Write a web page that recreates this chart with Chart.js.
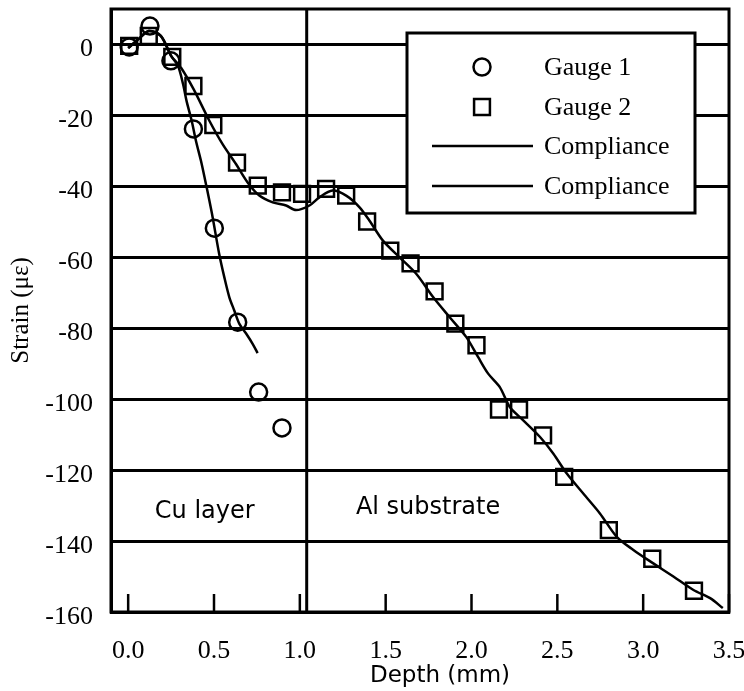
<!DOCTYPE html>
<html>
<head>
<meta charset="utf-8">
<script src="https://cdn.jsdelivr.net/npm/chart.js@4.4.1/dist/chart.umd.min.js"></script>
<style>
  html, body { margin: 0; padding: 0; background: #fff; }
  #wrap { width: 744px; height: 691px; }
</style>
</head>
<body>
<div id="wrap"><canvas id="strain"></canvas></div>
<script>
// Gauge readings (depth in mm, strain in microstrain)
const gauge1Depth  = [0.006, 0.127, 0.249, 0.38, 0.502, 0.638, 0.76, 0.896];
const gauge1Strain = [-0.7, 5.2, -4.6, -23.8, -51.8, -78.3, -98, -108.1];

const gauge2Depth  = [0.006, 0.12, 0.257, 0.38, 0.496, 0.634, 0.755, 0.896, 1.013, 1.153, 1.27, 1.392,
                      1.527, 1.645, 1.785, 1.906, 2.029, 2.16, 2.277, 2.417, 2.54, 2.8, 3.053, 3.296];
const gauge2Strain = [-0.4, 2.4, -3.5, -11.7, -22.7, -33.3, -39.8, -41.7, -42.1, -40.7, -42.6, -49.9,
                      -58.1, -61.7, -69.6, -78.7, -84.8, -102.9, -102.9, -110.2, -121.9, -136.9, -145, -154];

// Compliance curves
const comp1Depth  = [0, 0.06, 0.12, 0.19, 0.25, 0.29, 0.32, 0.34, 0.37, 0.395, 0.424, 0.449, 0.473,
                     0.492, 0.53, 0.56, 0.589, 0.618, 0.647, 0.687, 0.725, 0.754];
const comp1Strain = [-1, 1.5, 3.8, 2.4, -3.2, -6, -11.2, -15.9, -21.5, -27.2, -32.8, -38.4, -44,
                     -48.7, -59, -65.6, -71.2, -75, -78.7, -81.5, -84.4, -87];

const comp2Depth  = [0, 0.06, 0.12, 0.19, 0.25, 0.307, 0.381, 0.473, 0.55, 0.628, 0.696, 0.764, 0.842,
                     0.92, 0.978, 1.056, 1.114, 1.19, 1.27, 1.348, 1.406, 1.484, 1.581, 1.679, 1.776,
                     1.873, 1.97, 2.038, 2.097, 2.165, 2.223, 2.3, 2.398, 2.476, 2.554, 2.651, 2.748,
                     2.846, 2.943, 3.059, 3.176, 3.293, 3.39, 3.464];
const comp2Strain = [-1, 1.5, 3.8, 2.4, -3.2, -6.5, -12.6, -21.5, -28.1, -33.7, -38.9, -42.6, -44.5,
                     -45.4, -46.7, -45.4, -43.1, -41.2, -42.6, -45.9, -49.7, -55.3, -60, -64.7, -71.2,
                     -76.9, -82.5, -88.1, -92.8, -96.6, -102.2, -105.9, -110.6, -115.3, -120.9, -126.6, -132.2,
                     -138.8, -142.5, -146.3, -150, -153.8, -156.1, -158.9];

const xTickValues = [0, 0.5, 1, 1.5, 2, 2.5, 3, 3.5];
const yTickValues = [-160, -140, -120, -100, -80, -60, -40, -20, 0];

const xTitle = 'Depth (mm)';
const boundaryDepth = 1.04;
const regionLabels = ['Cu layer', 'Al substrate'];
const regionDepth  = [0.446, 1.747];
const regionStrain = [-131.8, -130.7];

const pts = (xs, ys) => xs.map((x, i) => ({ x: x, y: ys[i] }));

const serif = '"Liberation Serif", "Times New Roman", serif';
const sans = '"DejaVu Sans", sans-serif';

function fixBox(s, size) {
    if (s.isHorizontal()) s.height = size; else s.width = size;
    s.paddingLeft = s.paddingRight = s.paddingTop = s.paddingBottom = 0;
}

// frame, inner ticks, boundary line, texts and the boxed legend
const overlay = {
    id: 'overlay',
    beforeDatasetsDraw(chart) {
        const { ctx, chartArea: a, scales: { x, y } } = chart;
        ctx.save();
        ctx.strokeStyle = '#000';
        ctx.lineWidth = 3;
        ctx.strokeRect(a.left, a.top, a.right - a.left, a.bottom - a.top);

        const bx = x.getPixelForValue(boundaryDepth);
        ctx.beginPath();
        ctx.moveTo(bx, a.top);
        ctx.lineTo(bx, a.bottom);
        ctx.stroke();

        ctx.lineWidth = 2.5;
        xTickValues.forEach(v => {
            const px = x.getPixelForValue(v);
            ctx.beginPath();
            ctx.moveTo(px, a.bottom);
            ctx.lineTo(px, a.bottom - 18);
            ctx.stroke();
        });

        ctx.fillStyle = '#000';
        ctx.font = '24px ' + sans;
        ctx.textAlign = 'center';
        ctx.textBaseline = 'middle';
        regionLabels.forEach((t, i) => {
            ctx.fillText(t, x.getPixelForValue(regionDepth[i]), y.getPixelForValue(regionStrain[i]));
        });

        // axis title sits a little right of centre in the original
        ctx.font = '23px ' + sans;
        ctx.fillText(xTitle, (a.left + a.right) / 2 + 20, 676);
        ctx.restore();
    },
    afterDraw(chart) {
        const { ctx } = chart;
        const box = { left: 407, top: 33, right: 695, bottom: 213 };
        const rows = [67, 107, 146, 186];
        ctx.save();
        ctx.fillStyle = '#fff';
        ctx.fillRect(box.left, box.top, box.right - box.left, box.bottom - box.top);
        ctx.strokeStyle = '#000';
        ctx.lineWidth = 3;
        ctx.strokeRect(box.left, box.top, box.right - box.left, box.bottom - box.top);

        ctx.font = '26px ' + serif;
        ctx.textAlign = 'left';
        ctx.textBaseline = 'middle';
        chart.data.datasets.forEach((ds, i) => {
            const cy = rows[i];
            ctx.strokeStyle = '#000';
            ctx.lineWidth = ds.borderWidth;
            if (ds.showLine) {
                ctx.beginPath();
                ctx.moveTo(432, cy);
                ctx.lineTo(533, cy);
                ctx.stroke();
            } else {
                ctx.fillStyle = '#fff';
                Chart.helpers.drawPoint(ctx, {
                    pointStyle: ds.pointStyle,
                    radius: ds.pointRadius,
                    borderWidth: ds.borderWidth
                }, 482, cy);
            }
            ctx.fillStyle = '#000';
            ctx.fillText(ds.label, 544, cy + 1);
        });
        ctx.restore();
    }
};

new Chart(document.getElementById('strain'), {
    type: 'scatter',
    data: {
        datasets: [
            {
                label: 'Gauge 1',
                data: pts(gauge1Depth, gauge1Strain),
                showLine: false,
                pointStyle: 'circle',
                pointRadius: 8.5,
                borderWidth: 2.5,
                borderColor: '#000',
                backgroundColor: 'rgba(0,0,0,0)'
            },
            {
                label: 'Gauge 2',
                data: pts(gauge2Depth, gauge2Strain),
                showLine: false,
                pointStyle: 'rect',
                pointRadius: 11.2,
                borderWidth: 2.5,
                borderColor: '#000',
                backgroundColor: 'rgba(0,0,0,0)'
            },
            {
                label: 'Compliance',
                data: pts(comp1Depth, comp1Strain),
                showLine: true,
                pointRadius: 0,
                borderWidth: 2.5,
                borderColor: '#000',
                tension: 0.3
            },
            {
                label: 'Compliance',
                data: pts(comp2Depth, comp2Strain),
                showLine: true,
                pointRadius: 0,
                borderWidth: 2.5,
                borderColor: '#000',
                tension: 0.3
            }
        ]
    },
    options: {
        responsive: true,
        maintainAspectRatio: false,
        animation: false,
        layout: { autoPadding: false, padding: { top: 9, right: 15, left: 0, bottom: 0 } },
        plugins: {
            legend: { display: false },
            tooltip: { enabled: false }
        },
        scales: {
            x: {
                type: 'linear',
                min: -0.1,
                max: 3.5,
                afterBuildTicks: s => { s.ticks = xTickValues.map(v => ({ value: v })); },
                afterFit: s => fixBox(s, 79),
                grid: { display: false, drawTicks: false, tickLength: 0 },
                border: { display: true, color: '#000', width: 3 },
                ticks: {
                    color: '#000',
                    font: { family: serif, size: 26 },
                    padding: 24,
                    maxRotation: 0,
                    callback: v => v.toFixed(1)
                },
                title: { display: false }
            },
            y: {
                type: 'linear',
                min: -160,
                max: 10,
                afterBuildTicks: s => { s.ticks = yTickValues.map(v => ({ value: v })); },
                afterFit: s => fixBox(s, 111),
                grid: { color: '#000', lineWidth: 3, drawTicks: false, tickLength: 0 },
                border: { display: true, color: '#000', width: 3 },
                ticks: {
                    color: '#000',
                    font: { family: serif, size: 26 },
                    padding: 18,
                    labelOffset: 5
                },
                title: {
                    display: true,
                    text: 'Strain (με)',
                    color: '#000',
                    font: { family: serif, size: 25 },
                    padding: { top: 6, bottom: 0 }
                }
            }
        }
    },
    plugins: [overlay]
});
</script>
</body>
</html>
